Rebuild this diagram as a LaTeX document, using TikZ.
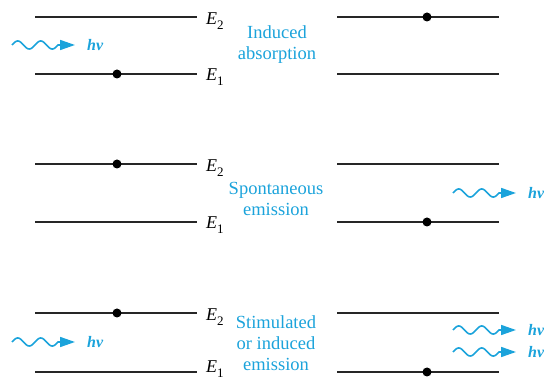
\documentclass[tikz,border=0pt]{standalone}
\usepackage{fontspec}
\setmainfont{Liberation Serif}
\usetikzlibrary{arrows.meta}
\definecolor{cy}{HTML}{1BA3DB}
\newcommand{\Elab}[1]{{\itshape E}\raisebox{-4.5pt}{\fontsize{13}{13}\selectfont #1}}
\newcommand{\hnu}{{\bfseries\itshape hν}}
\tikzset{
  level/.style={line width=1.8pt, black!85},
  elec/.style={circle, fill=black, inner sep=0pt, minimum size=9pt},
  elab/.style={anchor=west, inner sep=0pt, font=\fontsize{18}{18}\selectfont},
  cyantext/.style={align=center, text=cy, font=\fontsize{18.5}{21}\selectfont, inner sep=0pt},
  hnulab/.style={anchor=west, text=cy, inner sep=0pt, font=\fontsize{16}{16}\selectfont},
  photonline/.style={cy, line width=1.6pt, -{Triangle[length=15pt,width=10pt]}}
}
\newcommand{\photon}[3]{% name, x, y
  \coordinate (#1s) at (#2,#3);
  \coordinate (#1e) at (#2+63,#3);
  \draw[photonline] plot[domain=0:46, samples=60, smooth] ({#2+\x},{#3-4*sin(\x/23*360)}) -- (#1e);
  \node[hnulab] (#1l) at (#2+75,#3) {\hnu};
}
\begin{document}
\begin{tikzpicture}[x=1pt,y=-1pt]
\useasboundingbox (0,0) rectangle (544,379);
% Row 1: induced absorption
\coordinate (a2l) at (35,17); \coordinate (a2r) at (197,17);
\coordinate (a1l) at (35,74); \coordinate (a1r) at (197,74);
\draw[level] (a2l) -- (a2r);
\draw[level] (a1l) -- (a1r);
\node[elab] (aE2) at (206,21) {\Elab{2}};
\node[elab] (aE1) at (206,77) {\Elab{1}};
\node[elec] (ad) at (117,74) {};
\photon{ap}{12}{45}
\node[cyantext] (at) at (277,45) {Induced\\absorption};
\coordinate (b2l) at (337,17); \coordinate (b2r) at (499,17);
\coordinate (b1l) at (337,74); \coordinate (b1r) at (499,74);
\draw[level] (b2l) -- (b2r);
\draw[level] (b1l) -- (b1r);
\node[elec] (bd) at (427,17) {};
% Row 2: spontaneous emission
\coordinate (c2l) at (35,164); \coordinate (c2r) at (197,164);
\coordinate (c1l) at (35,222); \coordinate (c1r) at (197,222);
\draw[level] (c2l) -- (c2r);
\draw[level] (c1l) -- (c1r);
\node[elab] (cE2) at (206,168) {\Elab{2}};
\node[elab] (cE1) at (206,225) {\Elab{1}};
\node[elec] (cd) at (117,164) {};
\node[cyantext] (ct) at (276,199) {Spontaneous\\emission};
\coordinate (d2l) at (337,164); \coordinate (d2r) at (499,164);
\coordinate (d1l) at (337,222); \coordinate (d1r) at (499,222);
\draw[level] (d2l) -- (d2r);
\draw[level] (d1l) -- (d1r);
\node[elec] (dd) at (427,222) {};
\photon{dp}{453}{193}
% Row 3: stimulated emission
\coordinate (e2l) at (35,313); \coordinate (e2r) at (197,313);
\coordinate (e1l) at (35,372); \coordinate (e1r) at (197,372);
\draw[level] (e2l) -- (e2r);
\draw[level] (e1l) -- (e1r);
\node[elab] (eE2) at (206,317) {\Elab{2}};
\node[elab] (eE1) at (206,369) {\Elab{1}};
\node[elec] (ed) at (117,313) {};
\photon{ep}{12}{342}
\node[cyantext] (et) at (276,343) {Stimulated\\or induced\\emission};
\coordinate (f2l) at (337,313); \coordinate (f2r) at (499,313);
\coordinate (f1l) at (337,372); \coordinate (f1r) at (499,372);
\draw[level] (f2l) -- (f2r);
\draw[level] (f1l) -- (f1r);
\node[elec] (fd) at (427,372) {};
\photon{fpa}{453}{330}
\photon{fpb}{453}{352}
\end{tikzpicture}
\end{document}
